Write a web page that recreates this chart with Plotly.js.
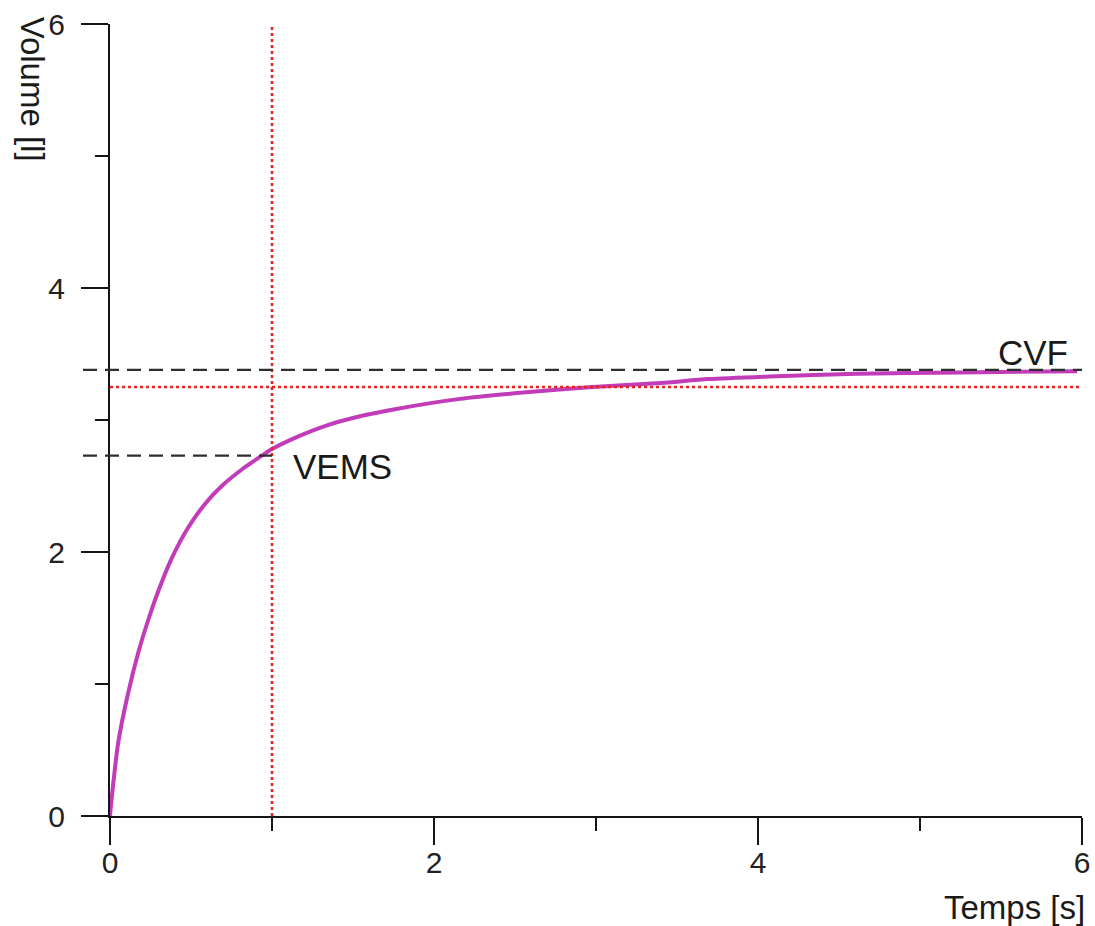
<!DOCTYPE html>
<html>
<head>
<meta charset="utf-8">
<script src="https://cdn.plot.ly/plotly-3.0.1.min.js"></script>
<style>html,body{margin:0;padding:0;background:#fff;}#chart{width:1095px;height:926px;}</style>
</head>
<body>
<div id="chart"></div>
<script>
// Curve: volume expired vs time
const time   = [0, 0.01, 0.05, 0.11, 0.175, 0.24, 0.30, 0.38, 0.48, 0.59, 0.69, 0.83, 0.95, 1.0, 1.17, 1.34, 1.55, 1.75, 2.16, 2.57, 2.98, 3.40, 3.69, 4.07, 4.61, 5.25, 5.97];
const volume = [0, 0.13, 0.55, 0.92, 1.24, 1.50, 1.71, 1.95, 2.18, 2.37, 2.50, 2.64, 2.74, 2.78, 2.88, 2.96, 3.03, 3.08, 3.16, 3.21, 3.25, 3.28, 3.31, 3.33, 3.35, 3.36, 3.37];

// Reference levels (black dashed)
const refNames   = ['CVF', 'VEMS'];
const refVolumes = [3.38, 2.73];
const refTimeEnd = [6, 1];

// Red dotted cursor lines
const cursorTime   = [1];
const cursorVolume = [3.25];

// Axes
const xRange = [0, 6];
const yRange = [0, 6];
const tickVals = [0, 2, 4, 6];
const tickText = ['0', '2', '4', '6'];

const magenta = '#c23bb9';
const red = '#e8231f';
const dashCol = '#2e2e2e';
const axisCol = '#151515';
const FONT = 'Liberation Sans, Arial, sans-serif';

const traces = [
  {x: time, y: volume, type: 'scatter', mode: 'lines',
   line: {color: magenta, width: 4, shape: 'spline', smoothing: 0.6}, hoverinfo: 'skip', showlegend: false},
  {x: [cursorTime[0], cursorTime[0]], y: yRange, type: 'scatter', mode: 'lines',
   line: {color: red, width: 2.5, dash: 'dot'}, hoverinfo: 'skip', showlegend: false},
  {x: xRange, y: [cursorVolume[0], cursorVolume[0]], type: 'scatter', mode: 'lines',
   line: {color: red, width: 2.5, dash: 'dot'}, hoverinfo: 'skip', showlegend: false}
];

const plotW = 1095 - 110 - 13;
const ext = -27 / plotW; // dashed lines start left of the axis
const shapes = refVolumes.map((v, i) => ({
  type: 'line', layer: 'above', xref: 'paper', yref: 'y',
  x0: ext, x1: (refTimeEnd[i] - xRange[0]) / (xRange[1] - xRange[0]),
  y0: v, y1: v,
  line: {color: dashCol, width: 2.2, dash: '14px,8px'}
}));

const annotations = [
  {text: refNames[0], xref: 'x', yref: 'y', x: 5.47, y: 3.51, xanchor: 'left', yanchor: 'middle',
   showarrow: false, font: {family: FONT, size: 35, color: '#1a1a1a'}},
  {text: refNames[1], xref: 'x', yref: 'y', x: 1.115, y: 2.65, xanchor: 'left', yanchor: 'middle',
   showarrow: false, font: {family: FONT, size: 35, color: '#1a1a1a'}},
  {text: 'Temps [s]', xref: 'paper', yref: 'paper', x: 1.005, y: -0.115, xanchor: 'right', yanchor: 'middle',
   showarrow: false, font: {family: FONT, size: 33, color: '#1a1a1a'}},
  {text: 'Volume [l]', xref: 'paper', yref: 'paper', x: -0.08, y: 0.918, xanchor: 'center', yanchor: 'middle',
   textangle: 90, showarrow: false, font: {family: FONT, size: 33, color: '#1a1a1a'}}
];

const axisCommon = {
  showgrid: false, zeroline: false,
  showline: true, linecolor: axisCol, linewidth: 2,
  ticks: 'outside', ticklen: 27, tickwidth: 2, tickcolor: axisCol,
  tickmode: 'array', tickvals: tickVals, ticktext: tickText,
  tickfont: {family: FONT, size: 30, color: '#222'},
  minor: {tickmode: 'array', tickvals: [1, 3, 5], ticks: 'outside', ticklen: 13, tickwidth: 2, tickcolor: axisCol, showgrid: false},
  fixedrange: true
};

const layout = {
  width: 1095, height: 926,
  margin: {l: 110, r: 13, t: 24, b: 110, pad: 0},
  paper_bgcolor: '#ffffff', plot_bgcolor: '#ffffff',
  showlegend: false,
  xaxis: Object.assign({}, axisCommon, {range: xRange, ticklabelstandoff: -8}),
  yaxis: Object.assign({}, axisCommon, {range: yRange, ticklabelstandoff: 10}),
  shapes: shapes,
  annotations: annotations
};

Plotly.newPlot('chart', traces, layout, {staticPlot: true, displayModeBar: false});
</script>
</body>
</html>
